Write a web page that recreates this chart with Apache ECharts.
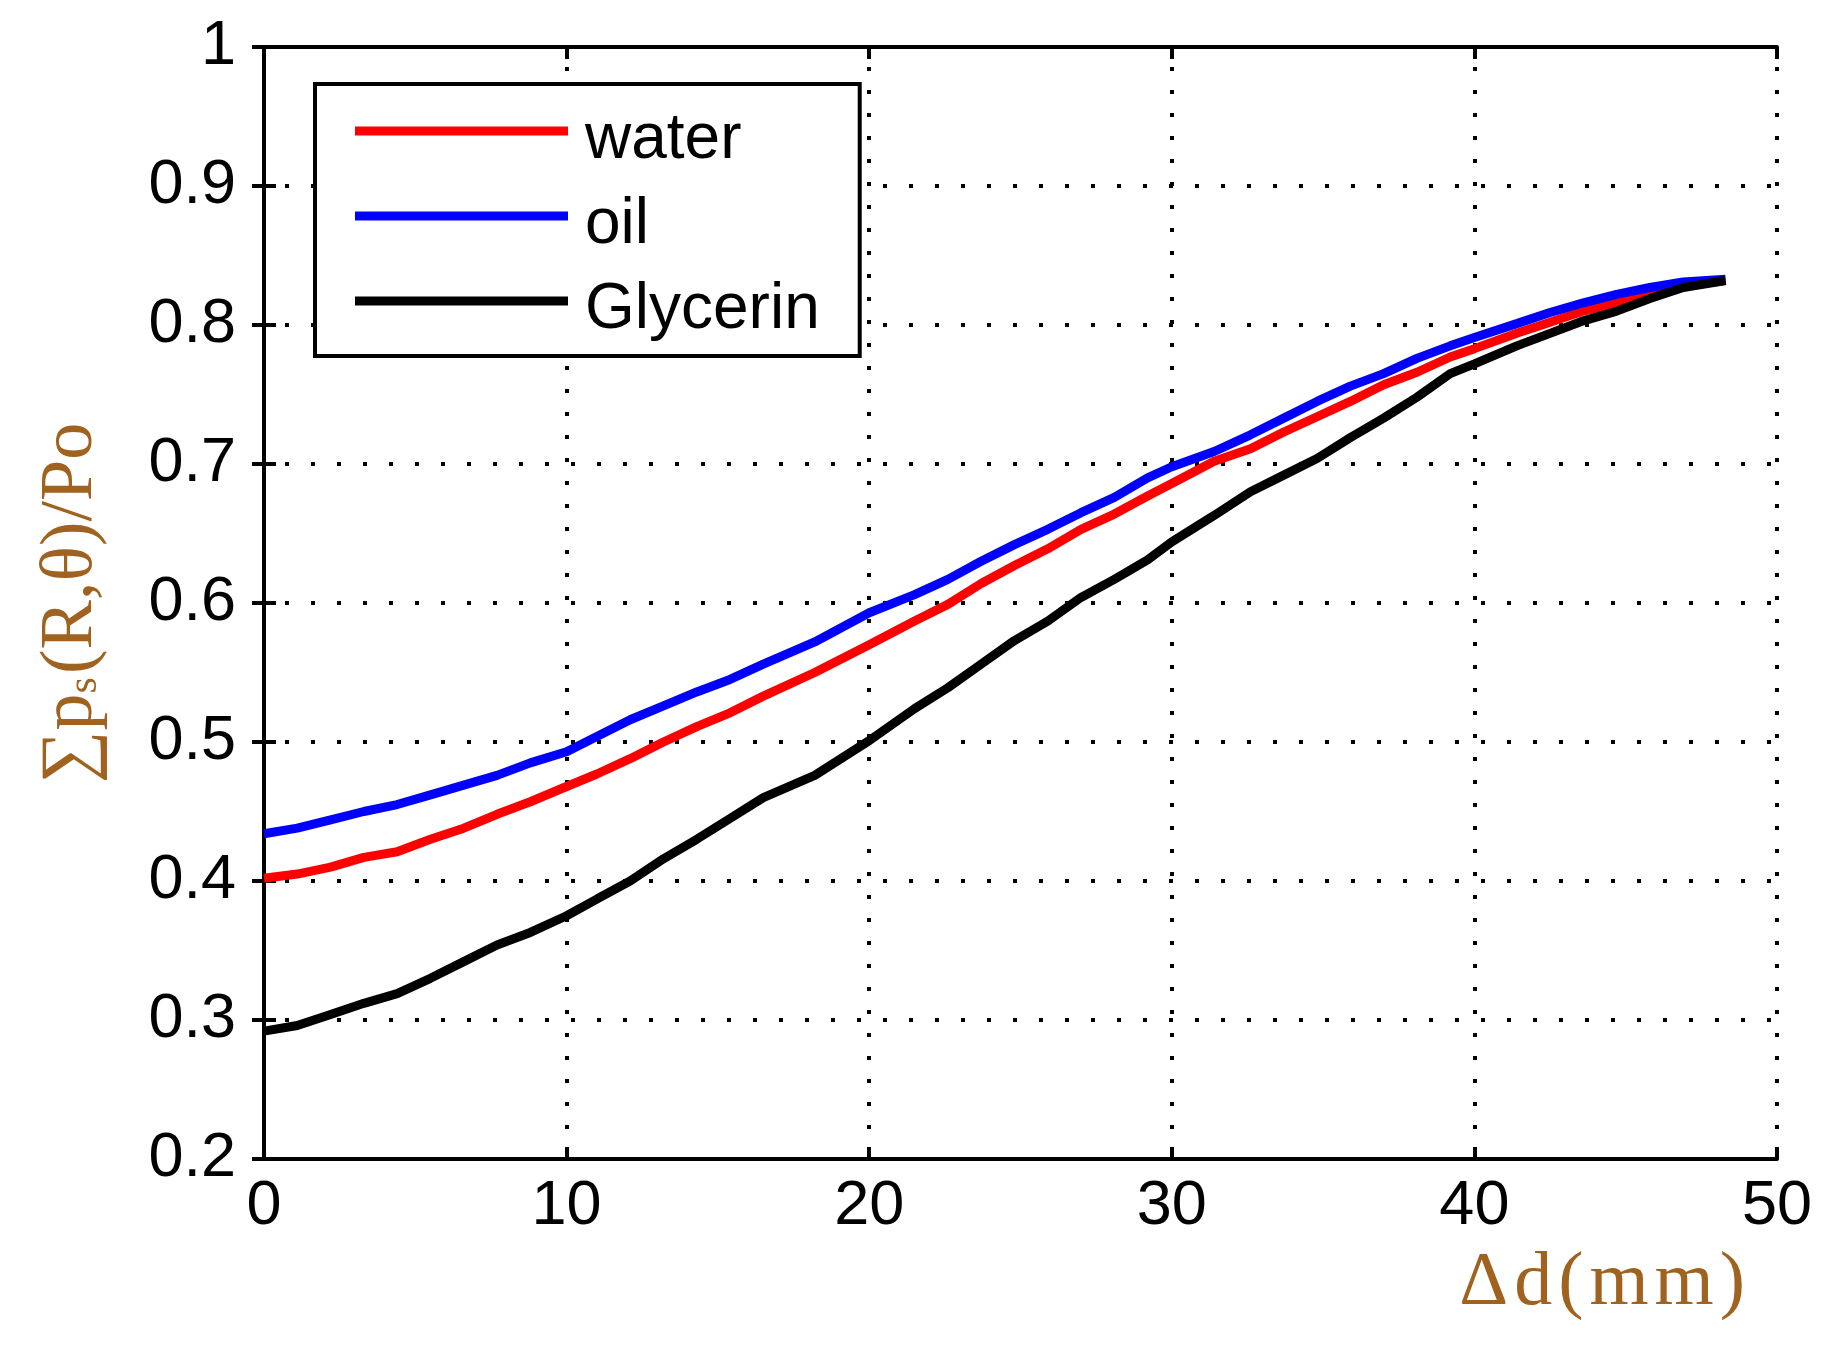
<!DOCTYPE html>
<html>
<head>
<meta charset="utf-8">
<script src="https://cdn.jsdelivr.net/npm/echarts@6/dist/echarts.min.js"></script>
<style>
  html, body { margin: 0; padding: 0; background: #fff; }
  #chart { width: 1825px; height: 1348px; }
</style>
</head>
<body>
<div id="chart"></div>
<script>
// Δd (mm) sample positions, shared by the three curves
var xs = [0, 1.1, 2.2, 3.3, 4.4, 5.5, 6.6, 7.7, 8.8, 10, 11, 12.1, 13.2, 14.3, 15.4, 16.5,
  18.2, 20, 21.5, 22.6, 23.7, 24.8, 25.9, 27, 28.1, 29.2, 30, 31.4, 32.6, 33.7, 34.8,
  35.9, 37, 38.1, 39.2, 40, 41.4, 42.5, 43.6, 44.7, 45.8, 46.9, 48.3];

var water = [0.402, 0.405, 0.410, 0.417, 0.421, 0.430, 0.438, 0.448, 0.457, 0.468, 0.477,
  0.488, 0.500, 0.511, 0.521, 0.533, 0.550, 0.570, 0.587, 0.599, 0.614, 0.627, 0.639,
  0.653, 0.664, 0.677, 0.686, 0.702, 0.711, 0.723, 0.734, 0.745, 0.757, 0.766, 0.777,
  0.783, 0.794, 0.802, 0.810, 0.816, 0.823, 0.828, 0.832];

var oil = [0.434, 0.438, 0.444, 0.450, 0.455, 0.462, 0.469, 0.476, 0.485, 0.493, 0.504,
  0.516, 0.526, 0.536, 0.545, 0.556, 0.572, 0.593, 0.606, 0.617, 0.630, 0.642, 0.653,
  0.665, 0.676, 0.690, 0.698, 0.709, 0.721, 0.733, 0.745, 0.756, 0.765, 0.776, 0.785,
  0.791, 0.801, 0.809, 0.816, 0.822, 0.827, 0.831, 0.833];

var glycerin = [0.292, 0.296, 0.304, 0.312, 0.319, 0.330, 0.342, 0.354, 0.363, 0.375, 0.387,
  0.400, 0.416, 0.430, 0.445, 0.460, 0.476, 0.501, 0.524, 0.539, 0.556, 0.573, 0.587,
  0.604, 0.617, 0.631, 0.644, 0.663, 0.680, 0.692, 0.704, 0.719, 0.733, 0.748, 0.765,
  0.772, 0.785, 0.794, 0.803, 0.810, 0.819, 0.827, 0.832];

var seriesNames = ['water', 'oil', 'Glycerin'];
var seriesColors = ['#ff0000', '#0000ff', '#000000'];
var xTitleChars = ['Δ', 'd', '(', 'm', 'm', ')'];

var tickFont = '"Liberation Sans", Arial, sans-serif';
var serifFont = '"Liberation Serif", "DejaVu Serif", serif';
var labelColor = '#a0621f';

function pairs(ys) {
  return xs.map(function (x, i) { return [x, ys[i]]; });
}

var chart = echarts.init(document.getElementById('chart'), null, {renderer: 'canvas'});

var frameLine = {show: true, lineStyle: {color: '#000', width: 4}};

var option = {
  backgroundColor: '#ffffff',
  animation: false,
  grid: {left: 264, right: 48, top: 47, bottom: 189, containLabel: false, outerBoundsMode: 'none'},
  legend: {
    data: seriesNames,
    orient: 'vertical',
    left: 315,
    top: 84,
    padding: [6, 40, 14, 40],
    itemGap: 3,
    itemWidth: 213,
    itemHeight: 9,
    icon: 'rect',
    borderColor: '#000',
    borderWidth: 4,
    backgroundColor: '#fff',
    formatter: function (n) { return '{t|' + n + '}'; },
    textStyle: {
      fontFamily: tickFont,
      fontSize: 64,
      color: '#000',
      padding: [0, 0, 0, 12],
      rich: {
        t: {fontFamily: tickFont, fontSize: 64, lineHeight: 64, color: '#000', padding: [18, 0, 0, 0]}
      }
    }
  },
  // x axis title sits below the right end of the axis (slightly spaced letters)
  graphic: [{
    type: 'text',
    right: 80,
    top: 1246,
    style: {
      text: xTitleChars.map(function (c) { return '{c|' + c + '}'; }).join(''),
      rich: {
        c: {fontFamily: serifFont, fontSize: 76, fill: labelColor, color: labelColor, padding: [0, 3, 0, 3]}
      },
      fill: labelColor
    }
  }],
  xAxis: [{
    type: 'value',
    min: 0,
    max: 50,
    interval: 10,
    axisLine: frameLine,
    axisTick: {show: true, inside: true, length: 12, lineStyle: {color: '#000', width: 4}},
    axisLabel: {fontFamily: tickFont, fontSize: 63, color: '#000', margin: 16},
    splitLine: {show: true, lineStyle: {color: '#000', width: 4, type: [4, 19], dashOffset: 3}}
  }, {
    type: 'value',
    position: 'top',
    min: 0,
    max: 50,
    interval: 10,
    axisLine: frameLine,
    axisTick: {show: true, inside: true, length: 12, lineStyle: {color: '#000', width: 4}},
    axisLabel: {show: false},
    splitLine: {show: false}
  }],
  yAxis: [{
    type: 'value',
    min: 0.2,
    max: 1,
    interval: 0.1,
    name: '{a|∑p}{s|s}{a|(R,θ)/Po}',
    nameLocation: 'middle',
    nameGap: 155,
    nameTextStyle: {
      color: labelColor,
      rich: {
        a: {fontFamily: serifFont, fontSize: 74, color: labelColor},
        s: {fontFamily: serifFont, fontSize: 42, color: labelColor, padding: [26, 3, 0, 0]}
      }
    },
    axisLine: frameLine,
    axisTick: {show: true, inside: true, length: 12, lineStyle: {color: '#000', width: 4}},
    axisLabel: {
      fontFamily: tickFont, fontSize: 63, color: '#000', margin: 28,
      formatter: function (v) { return String(+v.toFixed(1)); }
    },
    splitLine: {show: true, lineStyle: {color: '#000', width: 4, type: [4, 22], dashOffset: 5}}
  }, {
    type: 'value',
    position: 'right',
    min: 0.2,
    max: 1,
    interval: 0.1,
    axisLine: frameLine,
    axisTick: {show: true, inside: true, length: 12, lineStyle: {color: '#000', width: 4}},
    axisLabel: {show: false},
    splitLine: {show: false}
  }],
  series: [water, oil, glycerin].map(function (ys, i) {
    return {
      name: seriesNames[i],
      type: 'line',
      xAxisIndex: 0,
      yAxisIndex: 0,
      data: pairs(ys),
      symbol: 'none',
      smooth: false,
      color: seriesColors[i],
      lineStyle: {color: seriesColors[i], width: 9},
      itemStyle: {color: seriesColors[i]}
    };
  })
};

chart.setOption(option);
</script>
</body>
</html>
